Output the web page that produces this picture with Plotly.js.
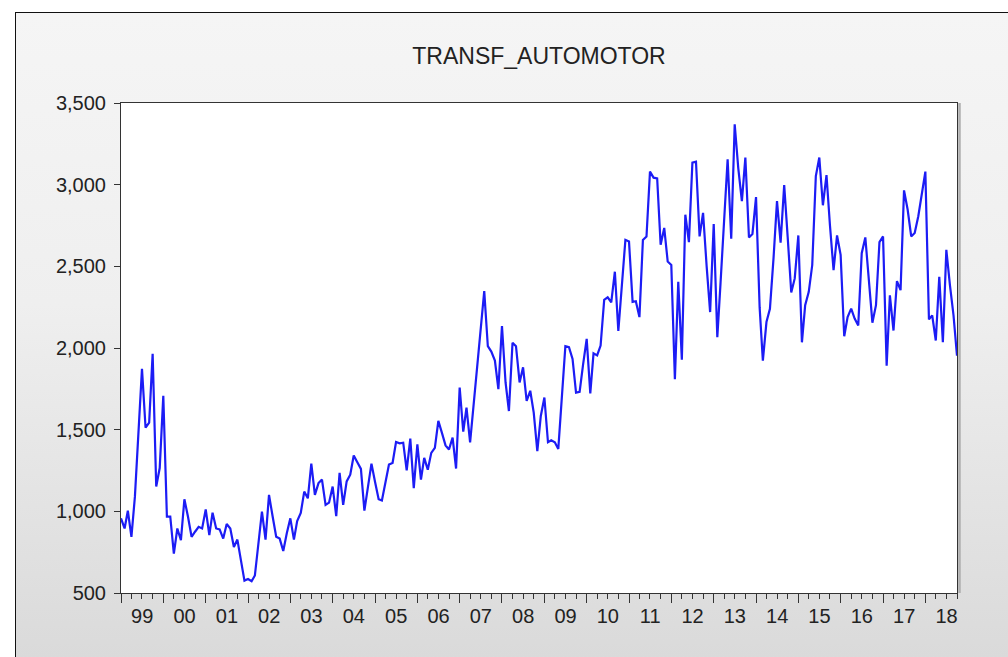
<!DOCTYPE html>
<html>
<head>
<meta charset="utf-8">
<script src="https://cdn.plot.ly/plotly-3.0.1.min.js"></script>
<style>
  html, body { margin: 0; padding: 0; background: #ffffff; }
  #frame {
    position: absolute; left: 15px; top: 12px; width: 993px; height: 645px;
    border-left: 1.5px solid #111; border-top: 1.5px solid #111;
    background: linear-gradient(to bottom, #f5f5f5 0%, #efefef 45%, #dadada 100%);
  }
  #chart { position: absolute; left: 0; top: 0; width: 1008px; height: 657px; }
</style>
</head>
<body>
<div id="frame"></div>
<div id="chart"></div>
<script>
// Series: TRANSF_AUTOMOTOR, monthly, starting January 1999
const seriesName = "TRANSF_AUTOMOTOR";
const startYear = 1999;
const startMonth = 1;
const values = [
  957, 895, 1004, 844, 1090, 1500, 1872, 1512, 1543, 1965, 1152, 1265,   // 1999
  1708, 967, 967, 741, 895, 823, 1074, 967, 844, 875, 905, 895,          // 2000
  1012, 854, 992, 895, 889, 833, 922, 895, 782, 827, 700, 576,           // 2001
  586, 572, 607, 800, 998, 827, 1101, 970, 844, 833, 757, 864,           // 2002
  957, 827, 940, 990, 1121, 1080, 1292, 1101, 1173, 1194, 1039, 1053,    // 2003
  1152, 971, 1235, 1039, 1183, 1224, 1342, 1300, 1260, 1004, 1150, 1292, // 2004
  1180, 1074, 1066, 1180, 1286, 1296, 1424, 1416, 1420, 1251, 1445, 1142,// 2005
  1410, 1194, 1327, 1255, 1358, 1389, 1554, 1480, 1404, 1379, 1451, 1262,// 2006
  1758, 1488, 1635, 1422, 1660, 1875, 2114, 2348, 2011, 1978, 1923, 1748,// 2007
  2135, 1789, 1614, 2032, 2011, 1789, 1882, 1676, 1738, 1604, 1368, 1584,// 2008
  1697, 1423, 1435, 1423, 1382, 1700, 2011, 2005, 1933, 1727, 1732, 1900,// 2009
  2056, 1722, 1967, 1955, 2015, 2295, 2310, 2280, 2467, 2104, 2380, 2662,// 2010
  2652, 2282, 2286, 2189, 2662, 2683, 3080, 3043, 3039, 2632, 2735, 2529,// 2011
  2508, 1809, 2405, 1928, 2816, 2648, 3135, 3141, 2683, 2827, 2500, 2220,// 2012
  2759, 2066, 2400, 2780, 3156, 2669, 3370, 3100, 2899, 3166, 2677, 2698,// 2013
  2924, 2250, 1922, 2159, 2240, 2550, 2899, 2645, 2998, 2680, 2340, 2426,// 2014
  2689, 2035, 2262, 2344, 2508, 3053, 3166, 2874, 3059, 2750, 2477, 2689,// 2015
  2570, 2072, 2189, 2241, 2180, 2138, 2580, 2677, 2385, 2155, 2262, 2648,// 2016
  2683, 1892, 2323, 2107, 2410, 2354, 2965, 2848, 2683, 2704, 2807, 2950,// 2017
  3080, 2175, 2200, 2046, 2436, 2035, 2601, 2385, 2200, 1953             // 2018
];
const yTicks = [500, 1000, 1500, 2000, 2500, 3000, 3500];

function monthDate(k) {
  const m0 = (startMonth - 1) + k;
  const y = startYear + Math.floor(m0 / 12);
  const m = (m0 % 12) + 1;
  return y + "-" + String(m).padStart(2, "0") + "-01";
}
const dates = values.map((v, k) => monthDate(k));

const axisFont = { family: "Liberation Sans, Arial, sans-serif", size: 20, color: "#222" };

const trace = {
  x: dates, y: values, type: "scatter", mode: "lines",
  line: { color: "#1c1cf5", width: 2.2 },
  hoverinfo: "x+y"
};

const layout = {
  width: 1008, height: 657,
  paper_bgcolor: "rgba(0,0,0,0)",
  plot_bgcolor: "#ffffff",
  margin: { l: 121, r: 51, t: 103, b: 64, pad: 0 },
  showlegend: false,
  title: {
    text: seriesName,
    font: { family: "Liberation Sans, Arial, sans-serif", size: 23, color: "#222" },
    x: 0.5, xref: "paper", xanchor: "center",
    y: 1 - 56 / 657, yref: "container", yanchor: "middle"
  },
  xaxis: {
    type: "date",
    range: [dates[0], dates[dates.length - 1]],
    tick0: dates[0], dtick: "M12",
    tickformat: "%y", ticklabelmode: "period",
    ticks: "outside", ticklen: 9, tickwidth: 1, tickcolor: "#333",
    ticklabelstandoff: -4,
    minor: { dtick: "M3", tick0: dates[0], ticks: "outside", ticklen: 5, tickwidth: 1, tickcolor: "#333", showgrid: false },
    showgrid: false, zeroline: false,
    showline: true, linecolor: "#333", linewidth: 1, mirror: true,
    tickfont: axisFont
  },
  yaxis: {
    range: [500, 3500],
    tickvals: yTicks, tickformat: ",d",
    ticks: "outside", ticklen: 6, tickwidth: 1, tickcolor: "#333",
    ticklabelstandoff: 4,
    showgrid: false, zeroline: false,
    showline: true, linecolor: "#333", linewidth: 1, mirror: true,
    tickfont: axisFont
  },
  shapes: [
    { type: "line", xref: "paper", yref: "paper", x0: 1.003, x1: 1.003, y0: 0, y1: 1,
      line: { color: "#b0b0b0", width: 2.5 } }
  ]
};

Plotly.newPlot("chart", [trace], layout, { displayModeBar: false, staticPlot: true });
</script>
</body>
</html>
